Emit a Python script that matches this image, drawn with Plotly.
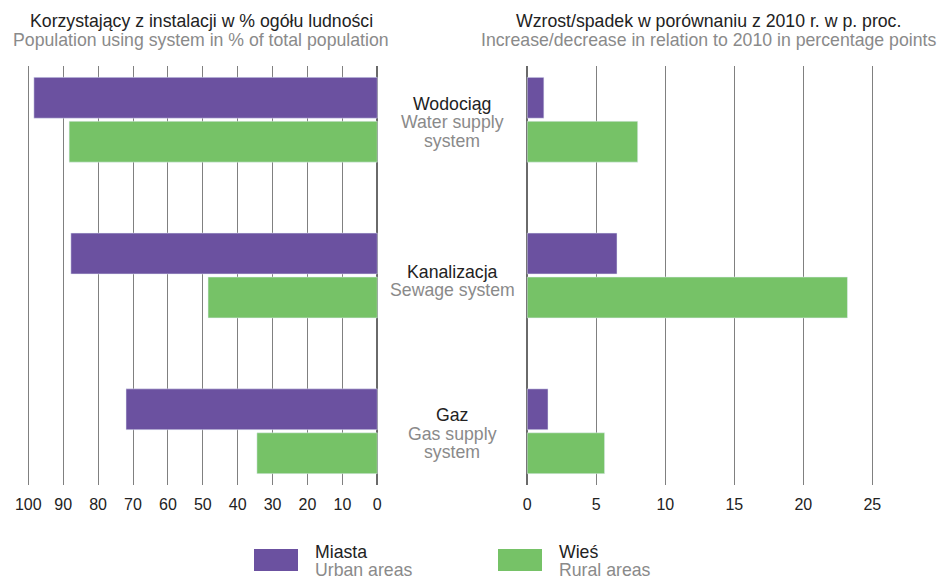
import plotly.graph_objects as go

# Categories (Polish name, English name lines)
categories_pl = ["Wodociąg", "Kanalizacja", "Gaz"]
categories_en = [["Water supply", "system"], ["Sewage system"], ["Gas supply", "system"]]

# Share of population using the installation, % of total population
share_urban = [98.4, 87.8, 72.0]
share_rural = [88.3, 48.5, 34.5]

# Change relative to 2010, percentage points
change_urban = [1.2, 6.5, 1.5]
change_rural = [8.0, 23.2, 5.6]

left_ticks = [100, 90, 80, 70, 60, 50, 40, 30, 20, 10, 0]
right_ticks = [0, 5, 10, 15, 20, 25]

PURPLE = "#6b51a0"
GREEN = "#76c267"
DARK = "#222222"
GREY = "#8a8a8a"
GRID = "#808080"
FONT = "Liberation Sans, Arial, sans-serif"
TXT = 17.7

W, H = 943, 577
ypos = [0, 1, 2]

fig = go.Figure()

common_bar = dict(orientation="h", hoverinfo="skip", showlegend=False)
fig.add_trace(go.Bar(x=share_urban, y=ypos, marker_color=PURPLE, xaxis="x", yaxis="y",
                     name="Miasta", offsetgroup="u", **common_bar))
fig.add_trace(go.Bar(x=share_rural, y=ypos, marker_color=GREEN, xaxis="x", yaxis="y",
                     name="Wieś", offsetgroup="r", **common_bar))
fig.add_trace(go.Bar(x=change_urban, y=ypos, marker_color=PURPLE, xaxis="x2", yaxis="y2",
                     name="Miasta", offsetgroup="u", **common_bar))
fig.add_trace(go.Bar(x=change_rural, y=ypos, marker_color=GREEN, xaxis="x2", yaxis="y2",
                     name="Wieś", offsetgroup="r", **common_bar))

# pixel -> value mappings for the two value axes
def left_val(px):
    return (377.3 - px) / 3.49

def right_val(px):
    return (px - 527.3) / 13.8

lx0, lx1 = 10, 392
rx0, rx1 = 515, 938

ydom = [1 - 485 / H, 1 - 66 / H]
yrange = [2.345, -0.345]

axis_common = dict(
    showgrid=True, gridcolor=GRID, gridwidth=1.3,
    zeroline=True, zerolinecolor="#6a6a6a", zerolinewidth=1.5,
    showline=False, ticks="", ticklabelstandoff=8,
    tickfont=dict(family=FONT, size=16, color=DARK),
    fixedrange=True,
)

fig.update_layout(
    width=W, height=H,
    margin=dict(l=0, r=0, t=0, b=0),
    paper_bgcolor="white", plot_bgcolor="white",
    barmode="group", bargap=0.436, bargroupgap=0.07,
    font=dict(family=FONT, color=DARK),
    xaxis=dict(domain=[lx0 / W, lx1 / W], range=[left_val(lx0), left_val(lx1)],
               tickvals=left_ticks, anchor="y", **axis_common),
    xaxis2=dict(domain=[rx0 / W, rx1 / W], range=[right_val(rx0), right_val(rx1)],
                tickvals=right_ticks, anchor="y2", **axis_common),
    yaxis=dict(domain=ydom, range=yrange, showgrid=False, zeroline=False,
               showticklabels=False, anchor="x", fixedrange=True),
    yaxis2=dict(domain=ydom, range=yrange, showgrid=False, zeroline=False,
                showticklabels=False, anchor="x2", fixedrange=True),
)

annotations = []


def text_line(x_px, y_px, text, color, xanchor="center"):
    return dict(
        x=x_px / W, y=1 - y_px / H, xref="paper", yref="paper",
        xanchor=xanchor, yanchor="middle", showarrow=False,
        text=text, font=dict(family=FONT, size=TXT, color=color),
    )


# Panel titles
annotations.append(text_line(201, 21, "Korzystający z instalacji w % ogółu ludności", DARK))
annotations.append(text_line(201, 40, "Population using system in % of total population", GREY))
annotations.append(text_line(708, 21, "Wzrost/spadek w porównaniu z 2010 r. w p. proc.", DARK))
annotations.append(text_line(708, 40, "Increase/decrease in relation to 2010 in percentage points", GREY))

# Category labels between the panels, centred on each bar group
PX_PER_CAT = 156.0
for i, (pl, en) in enumerate(zip(categories_pl, categories_en)):
    lines = [(pl, DARK)] + [(t, GREY) for t in en]
    n = len(lines)
    first = -16 if n == 3 else -4
    for k, (t, c) in enumerate(lines):
        off = first + 18.5 * k
        annotations.append(dict(
            x=452 / W, y=i + off / PX_PER_CAT, xref="paper", yref="y",
            xanchor="center", yanchor="middle", showarrow=False,
            text=t, font=dict(family=FONT, size=TXT, color=c),
        ))

# Legend
shapes = []
for x0, color, pl, en in [(254, PURPLE, "Miasta", "Urban areas"), (498, GREEN, "Wieś", "Rural areas")]:
    shapes.append(dict(type="rect", xref="paper", yref="paper",
                       x0=x0 / W, x1=(x0 + 44) / W, y0=1 - 571 / H, y1=1 - 549 / H,
                       fillcolor=color, line=dict(width=0)))
    annotations.append(text_line(x0 + 59, 552, pl, DARK, "left"))
    annotations.append(text_line(x0 + 59, 570, en, GREY, "left"))

fig.update_layout(annotations=annotations, shapes=shapes)

fig.write_html("out.html")
